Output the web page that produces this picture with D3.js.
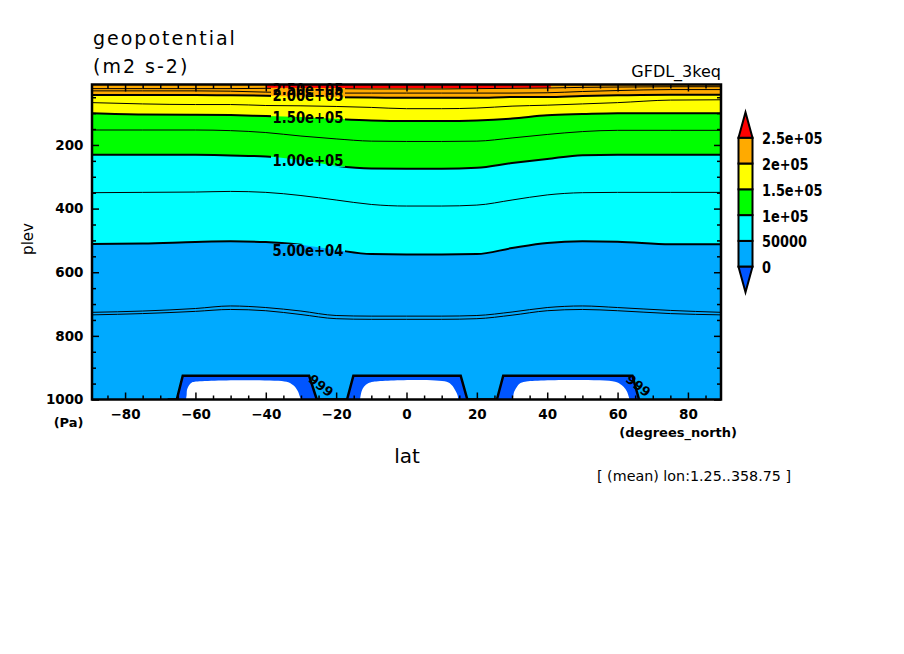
<!DOCTYPE html>
<html>
<head>
<meta charset="utf-8">
<script src="https://cdn.jsdelivr.net/npm/d3@7"></script>
<style>
body { margin: 0; background: #fff; }
text { font-family: "DejaVu Sans", sans-serif; fill: #000; }
.ax text { font-weight: bold; font-size: 13.5px; }
.ax line { stroke: #000; stroke-width: 1.5; }
</style>
</head>
<body>
<div id="main"></div>
<script>
// ---------- data ----------
// latitude nodes where the contours were read
const lats = [-89.4, -75, -60, -50, -40, -30, -20, -10, 0, 10, 20, 30, 40, 50, 60, 75, 89.4];
// pressure (Pa) of each contour line at those latitudes
const c250k = [23, 23, 23, 23, 22, 22, 23, 24, 24, 24, 23, 22, 21, 19, 18, 17, 17];
const c225k = [30, 30, 30, 31, 34, 35, 37, 37, 37, 37, 37, 37, 36, 32, 29, 26, 26];
const c200k = [43, 43, 43, 44, 45, 48, 50, 51, 52, 52, 52, 49, 49, 46, 44, 42, 42];
const c175k = [67, 71, 73, 73, 76, 77, 79, 82, 86, 86, 84, 78, 75, 71, 67, 59, 58];
const c150k = [100, 104, 105, 106, 109, 112, 118, 123, 125, 125, 123, 117, 107, 103, 100, 100, 100];
const c125k = [153, 153, 153, 155, 161, 172, 181, 188, 189, 189, 188, 178, 167, 158, 154, 154, 154];
const c100k = [231, 231, 231, 233, 236, 247, 265, 274, 275, 275, 272, 257, 244, 232, 231, 231, 231];
const c75k  = [350, 349, 348, 346, 349, 359, 373, 387, 392, 392, 389, 373, 357, 350, 349, 349, 349];
const c50k  = [511, 510, 505, 503, 505, 514, 530, 543, 544, 544, 543, 524, 508, 503, 504, 512, 512];
const lowA  = [726, 722, 714, 706, 711, 722, 736, 738, 738, 738, 736, 725, 711, 706, 711, 720, 726];
const lowB  = [734, 730, 723, 717, 721, 733, 746, 748, 748, 748, 746, 735, 721, 717, 721, 730, 734];

// thin strip above 2.5e+05 at the model top
const hiLat = [-40, -20, 0, 20, 41];
const hiP   = [20, 21, 21, 21, 20];

// below-ground outline (lat, Pa)
const groundLat = [-67.9, -65.3, -63.6, -27.7, -25.5, -16.9, -15.1, 15.4, 17.3, 25.7, 27.5, 64.2, 66.1];
const groundP   = [1000, 1000, 925, 925, 1000, 1000, 925, 925, 1000, 1000, 925, 925, 1000];

// missing-value (white) patches
const missing = [
  { lat: [-62.7, -62.5, -62.4, -61.8, -61.1, -60.2, -34.1, -32.7, -31.7, -30.8, -30.3, -29.8],
    p:   [1000, 986, 970, 955, 947, 944, 944, 951, 960, 976, 991, 1000] },
  { lat: [-13.2, -12.8, -12.1, -10.9, -9.4, 11.4, 12.9, 13.8, 14.5, 14.7],
    p:   [1000, 976, 960, 949, 944, 944, 955, 970, 986, 1000] },
  { lat: [30.2, 30.6, 31.4, 32.3, 33.7, 59.3, 60.7, 61.7, 62.7, 63.4],
    p:   [1000, 976, 960, 949, 944, 944, 951, 960, 976, 1000] }
];

const contourLabels = [
  { text: "2.50e+05", lat: -28, p: 24 },
  { text: "2.00e+05", lat: -28, p: 44 },
  { text: "1.50e+05", lat: -28, p: 112 },
  { text: "1.00e+05", lat: -28, p: 250 },
  { text: "5.00e+04", lat: -28, p: 530 }
];
const groundLabels = [
  { text: "999", lat: -24.3, p: 956 },
  { text: "999", lat: 65.9, p: 956 }
];

const levels = [0, 50000, 100000, 150000, 200000, 250000];
const levelLabels = ["0", "50000", "1e+05", "1.5e+05", "2e+05", "2.5e+05"];
const fillColors = ["#0055ff", "#00aaff", "#00ffff", "#00ff00", "#ffff00", "#ffaa00", "#ff0000"];

const latMajor = [-80, -60, -40, -20, 0, 20, 40, 60, 80];
const latMinor = d3.range(-85, 90, 5).filter(d => d % 20 !== 0);
const pMajor = [200, 400, 600, 800, 1000];
const pMinor = d3.range(50, 1000, 50).filter(d => d % 200 !== 0);

// ---------- layout ----------
const W = 904, H = 654;
const X0 = 92, X1 = 721, Y0 = 84.5, Y1 = 399.5;
const PTOP = 10, PBOT = 1000;

const xScale = d3.scaleLinear().domain([-89.4, 89.4]).range([X0, X1]);
const yScale = d3.scaleLinear().domain([PTOP, PBOT]).range([Y0, Y1]);

const svg = d3.select("#main").append("svg")
    .attr("width", W).attr("height", H);
const defs = svg.append("defs");
defs.append("clipPath").attr("id", "plotClip")
    .append("rect").attr("x", X0).attr("y", Y0)
    .attr("width", X1 - X0).attr("height", Y1 - Y0);

// mask to break contour lines under their labels
const mask = defs.append("mask").attr("id", "lblMask")
    .attr("maskUnits", "userSpaceOnUse")
    .attr("x", 0).attr("y", 0).attr("width", W).attr("height", H);
mask.append("rect").attr("width", W).attr("height", H).attr("fill", "#fff");
mask.selectAll("rect.hole").data(contourLabels).enter().append("rect")
    .attr("class", "hole")
    .attr("x", d => xScale(d.lat) - 37).attr("y", d => yScale(d.p) - 6)
    .attr("width", 74).attr("height", 12).attr("fill", "#000");

const plotG = svg.append("g").attr("clip-path", "url(#plotClip)");

// filled bands: each painted from its upper contour down to the bottom
const bands = [
  { upper: null, color: fillColors[5] },
  { upper: c200k, color: fillColors[4] },
  { upper: c150k, color: fillColors[3] },
  { upper: c100k, color: fillColors[2] },
  { upper: c50k, color: fillColors[1] }
];
const bandArea = (upper) => d3.area()
    .x((d, i) => xScale(lats[i]))
    .y0(yScale(PBOT))
    .y1((d, i) => upper ? yScale(upper[i]) : yScale(PTOP))
    .curve(d3.curveMonotoneX)(lats);

plotG.selectAll("path.band").data(bands).enter().append("path")
    .attr("class", "band")
    .attr("d", d => bandArea(d.upper))
    .attr("fill", d => d.color);

// over-range strip
plotG.append("path")
    .attr("d", d3.area()
        .x((d, i) => xScale(hiLat[i]))
        .y0((d, i) => yScale(hiP[i]))
        .y1(yScale(PTOP))(hiLat))
    .attr("fill", fillColors[6]);

// below-zero (under ground) region and missing patches
const groundLine = d3.line()
    .x((d, i) => xScale(groundLat[i]))
    .y((d, i) => yScale(groundP[i]));
plotG.append("path")
    .attr("d", groundLine(groundLat) + "Z")
    .attr("fill", fillColors[0]);

plotG.selectAll("path.miss").data(missing).enter().append("path")
    .attr("class", "miss")
    .attr("d", m => d3.line()
        .x((d, i) => xScale(m.lat[i]))
        .y((d, i) => yScale(m.p[i]))
        .curve(d3.curveCatmullRom)(m.lat) + "Z")
    .attr("fill", "#fff");

// contour lines
const lines = [
  { p: c250k, w: 1 }, { p: c225k, w: 1 }, { p: c200k, w: 2 },
  { p: c175k, w: 1 }, { p: c150k, w: 2 }, { p: c125k, w: 1 },
  { p: c100k, w: 2 }, { p: c75k, w: 1 }, { p: c50k, w: 2 },
  { p: lowA, w: 1 }, { p: lowB, w: 1 }
];
const linesG = plotG.append("g").attr("mask", "url(#lblMask)");
linesG.selectAll("path").data(lines).enter().append("path")
    .attr("d", c => d3.line()
        .x((d, i) => xScale(lats[i]))
        .y((d, i) => yScale(c.p[i]))
        .curve(d3.curveMonotoneX)(lats))
    .attr("fill", "none")
    .attr("stroke", "#000")
    .attr("stroke-width", c => c.w);

plotG.append("path")
    .attr("d", groundLine(groundLat))
    .attr("fill", "none")
    .attr("stroke", "#000")
    .attr("stroke-width", 2.5);

// frame
svg.append("rect")
    .attr("x", X0).attr("y", Y0)
    .attr("width", X1 - X0).attr("height", Y1 - Y0)
    .attr("fill", "none").attr("stroke", "#000").attr("stroke-width", 2.5);

// axes: ticks point inward on all four sides
function tickAxis(axis, values, size, transform, fmt, pad) {
    const g = svg.append("g").attr("class", "ax")
        .attr("transform", transform)
        .call(axis.tickValues(values).tickSize(-size)
            .tickPadding(pad || 3).tickFormat(fmt || (() => "")));
    g.select(".domain").remove();
    return g;
}
const fmt = d3.format("d");
tickAxis(d3.axisBottom(xScale), latMajor, 7, `translate(0,${Y1})`, fmt, 9.5);
tickAxis(d3.axisBottom(xScale), latMinor, 4, `translate(0,${Y1})`);
tickAxis(d3.axisTop(xScale), latMajor, 7, `translate(0,${Y0})`);
tickAxis(d3.axisTop(xScale), latMinor, 4, `translate(0,${Y0})`);
tickAxis(d3.axisLeft(yScale), pMajor, 7, `translate(${X0},0)`, fmt, 8.5);
tickAxis(d3.axisLeft(yScale), pMinor, 4, `translate(${X0},0)`);
tickAxis(d3.axisRight(yScale), pMajor, 7, `translate(${X1},0)`);
tickAxis(d3.axisRight(yScale), pMinor, 4, `translate(${X1},0)`);

// contour labels
svg.selectAll("text.clbl").data(contourLabels).enter().append("text")
    .attr("class", "clbl")
    .attr("x", d => xScale(d.lat)).attr("y", d => yScale(d.p))
    .attr("dy", "0.36em")
    .attr("text-anchor", "middle")
    .attr("font-size", "15.5px").attr("font-weight", "bold")
    .attr("textLength", 71).attr("lengthAdjust", "spacingAndGlyphs")
    .text(d => d.text);

plotG.selectAll("text.glbl").data(groundLabels).enter().append("text")
    .attr("class", "glbl")
    .attr("transform", d => `translate(${xScale(d.lat)},${yScale(d.p)}) rotate(38)`)
    .attr("dy", "0.36em")
    .attr("text-anchor", "middle")
    .attr("font-size", "13px").attr("font-weight", "bold")
    .text(d => d.text);

// titles and axis names
function label(x, y, txt, size, opts) {
    opts = opts || {};
    return svg.append("text")
        .attr("x", x).attr("y", y)
        .attr("font-size", size + "px")
        .attr("font-weight", opts.bold ? "bold" : "normal")
        .attr("text-anchor", opts.anchor || "start")
        .attr("letter-spacing", opts.ls || 0)
        .text(txt);
}
label(93, 45, "geopotential", 19, { ls: 2 });
label(93, 73, "(m2 s-2)", 19, { ls: 2 });
label(721, 76.5, "GFDL_3keq", 16, { anchor: "end" });
label(83.5, 427, "(Pa)", 13, { bold: true, anchor: "end" });
label(407, 463, "lat", 20, { anchor: "middle" });
label(737, 436.5, "(degrees_north)", 13, { bold: true, anchor: "end" });
label(597, 481, "[ (mean) lon:1.25..358.75 ]", 14.3);
svg.append("text")
    .attr("transform", "translate(33,239) rotate(-90)")
    .attr("text-anchor", "middle")
    .attr("font-size", "15px")
    .text("plev");

// colour bar
const cbX = 738.5, cbW = 14, triH = 25.5;
const cbY = d3.scaleLinear().domain([levels[0], levels[levels.length - 1]]).range([266.7, 137.7]);
const cbG = svg.append("g");
cbG.selectAll("rect").data(d3.range(levels.length - 1)).enter().append("rect")
    .attr("x", cbX).attr("width", cbW)
    .attr("y", i => cbY(levels[i + 1]))
    .attr("height", i => cbY(levels[i]) - cbY(levels[i + 1]))
    .attr("fill", i => fillColors[i + 1])
    .attr("stroke", "#000").attr("stroke-width", 2);
const topY = cbY(levels[levels.length - 1]), botY = cbY(levels[0]);
cbG.append("path")
    .attr("d", `M${cbX},${topY}L${cbX + cbW},${topY}L${cbX + cbW / 2},${topY - triH}Z`)
    .attr("fill", fillColors[6]).attr("stroke", "#000").attr("stroke-width", 2);
cbG.append("path")
    .attr("d", `M${cbX},${botY}L${cbX + cbW},${botY}L${cbX + cbW / 2},${botY + triH}Z`)
    .attr("fill", fillColors[0]).attr("stroke", "#000").attr("stroke-width", 2);
cbG.selectAll("text").data(levels).enter().append("text")
    .attr("x", cbX + cbW + 9.5)
    .attr("y", d => cbY(d) + 1)
    .attr("dy", "0.36em")
    .attr("font-size", "15px").attr("font-weight", "bold")
    .text((d, i) => levelLabels[i])
    .each(function () {
        this.setAttribute("textLength", this.getComputedTextLength() * 0.86);
        this.setAttribute("lengthAdjust", "spacingAndGlyphs");
    });
</script>
</body>
</html>
